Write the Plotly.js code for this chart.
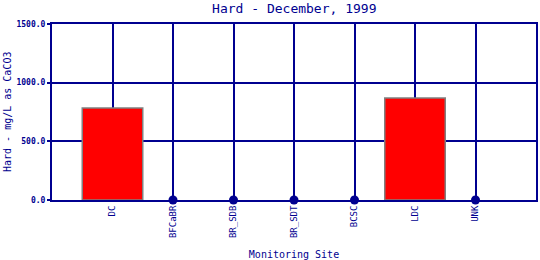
<!DOCTYPE html>
<html><head><meta charset="utf-8">
<script src="https://cdn.plot.ly/plotly-3.0.1.min.js"></script>
<style>html,body{margin:0;padding:0;background:#fff;}#chart{width:540px;height:260px;}</style>
</head><body><div id="chart"></div>
<script>
var sites = ["DC", "BFCaBR", "BR_SDB", "BR_SDT", "BCSC", "LDC", "UNK"];
var hardness = [785, 0, 0, 0, 0, 870, 0];
var yTicks = [0, 500, 1000, 1500];

var navy = "#000090";
var font = "DejaVu Sans Mono, Liberation Mono, monospace";

var barVals = hardness.map(function(v){ return v === 0 ? null : v; });
var zeroSites = sites.filter(function(s, i){ return hardness[i] === 0; });
var zeroVals = hardness.filter(function(v){ return v === 0; });

var traces = [
  {type: "bar", x: sites, y: barVals, width: 1,
   marker: {color: "#ff0000", line: {color: "#808080", width: 1.5}}},
  {type: "scatter", mode: "markers", x: zeroSites, y: zeroVals,
   marker: {color: navy, size: 9}, cliponaxis: false}
];

var layout = {
  width: 540, height: 260,
  margin: {l: 52, r: 4, t: 24, b: 60},
  paper_bgcolor: "#fff", plot_bgcolor: "#fff",
  showlegend: false,
  font: {family: font, color: navy},
  title: {text: "Hard - December, 1999", font: {family: font, size: 13, color: navy},
          x: 0.545, xanchor: "center", y: 0.967, yanchor: "middle"},
  xaxis: {
    type: "category", range: [-1, 7],
    showgrid: true, gridcolor: navy, gridwidth: 2,
    showline: true, linecolor: navy, linewidth: 2, mirror: true,
    ticks: "", tickangle: -90, tickfont: {family: font, size: 9, color: navy},
    title: {text: "Monitoring Site", font: {family: font, size: 10, color: navy}, standoff: 14},
    zeroline: false, fixedrange: true
  },
  yaxis: {
    range: [0, 1500], tickvals: yTicks, tickformat: ".1f",
    showgrid: true, gridcolor: navy, gridwidth: 2,
    showline: true, linecolor: navy, linewidth: 2, mirror: true,
    ticks: "outside", ticklen: 3, tickcolor: navy, tickwidth: 2,
    tickfont: {family: font, size: 8, color: navy, weight: "bold"},
    zeroline: false, fixedrange: true
  },
  annotations: [
    {text: "Hard - mg/L as CaCO3", xref: "paper", yref: "paper",
     x: -0.093, y: 0.5, xanchor: "center", yanchor: "middle",
     textangle: -90, showarrow: false,
     font: {family: font, size: 10, color: navy}}
  ]
};

Plotly.newPlot("chart", traces, layout, {displayModeBar: false, staticPlot: true});
</script>
</body></html>
